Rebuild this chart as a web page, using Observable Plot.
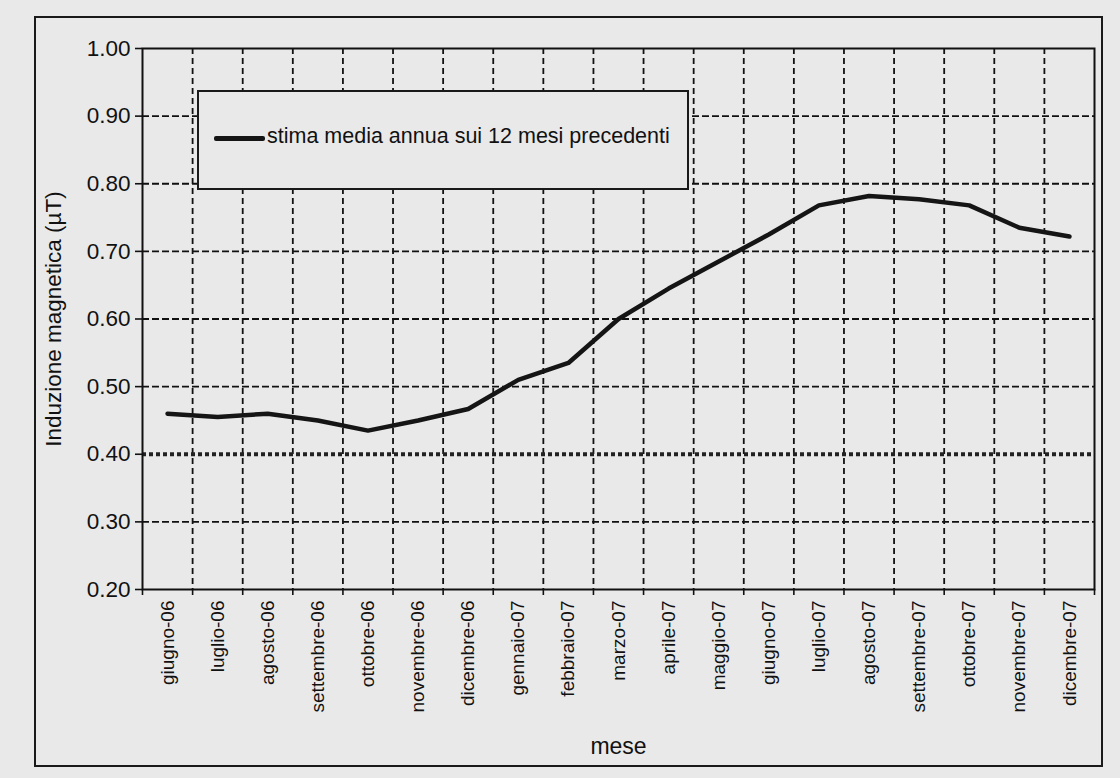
<!DOCTYPE html>
<html>
<head>
<meta charset="utf-8">
<script src="https://cdn.jsdelivr.net/npm/d3@7"></script>
<script src="https://cdn.jsdelivr.net/npm/@observablehq/plot@0.6"></script>
<style>
  html, body { margin: 0; padding: 0; background: #e9e9e9; }
  #wrap { position: relative; width: 1120px; height: 778px; overflow: hidden;
          font-family: "Liberation Sans", Arial, sans-serif; color: #111; }
  #wrap svg { position: absolute; left: 0; top: 0; }
  #frame { position: absolute; left: 34px; top: 16px; width: 1069px; height: 751px;
           border: 2px solid #1a1a1a; box-sizing: border-box; pointer-events: none; }
  #legend { position: absolute; left: 197px; top: 90px; width: 492px; height: 100px;
            border: 2px solid #1a1a1a; background: #e9e9e9; box-sizing: border-box; }
  #legend .swatch { position: absolute; left: 15px; top: 44px; width: 51px; height: 5px;
                    background: #151515; border-radius: 2px; }
  #legend .lbl { position: absolute; left: 68px; top: 34px; font-size: 21.5px; line-height: 1;
                 white-space: nowrap; color: #111; }
</style>
</head>
<body>
<div id="wrap">
  <div id="frame"></div>
</div>
<script>
// ---- data ----
const months = [
  "giugno-06", "luglio-06", "agosto-06", "settembre-06", "ottobre-06", "novembre-06",
  "dicembre-06", "gennaio-07", "febbraio-07", "marzo-07", "aprile-07", "maggio-07",
  "giugno-07", "luglio-07", "agosto-07", "settembre-07", "ottobre-07", "novembre-07",
  "dicembre-07"
];
const stimaMedia = [
  0.460, 0.455, 0.460, 0.450, 0.435, 0.450,
  0.467, 0.510, 0.535, 0.600, 0.645, 0.685,
  0.725, 0.768, 0.782, 0.777, 0.768, 0.735,
  0.722
];
const yTicks = [0.2, 0.3, 0.4, 0.5, 0.6, 0.7, 0.8, 0.9, 1.0];
const soglia = [0.4];
const seriesName = "stima media annua sui 12 mesi precedenti";
const yLabel = "Induzione magnetica (µT)";
const xLabel = "mese";

// ---- derived table ----
const n = months.length;
const data = months.map((m, i) => ({ i, m, v: stimaMedia[i] }));
const edges = d3.range(n + 1).map(k => k - 0.5);
const innerEdges = edges.slice(1, -1);
const gridY = yTicks.slice(1, -1).filter(t => !soglia.includes(t));

const chart = Plot.plot({
  width: 1120,
  height: 778,
  marginLeft: 142,
  marginRight: 26,
  marginTop: 48,
  marginBottom: 189,
  style: { background: "transparent", fontFamily: "Liberation Sans, Arial, sans-serif", color: "#111" },
  x: { domain: [-0.5, n - 0.5] },
  y: { domain: [0.2, 1.0] },
  marks: [
    Plot.ruleY(gridY, { stroke: "#111", strokeWidth: 1.8, strokeDasharray: "7,3" }),
    Plot.ruleX(innerEdges, { stroke: "#111", strokeWidth: 1.8, strokeDasharray: "6,4" }),
    Plot.ruleY(soglia, { stroke: "#222", strokeWidth: 4, strokeDasharray: "4,3" }),
    Plot.line(data, { x: "i", y: "v", stroke: "#151515", strokeWidth: 4.5,
                      strokeLinejoin: "round", strokeLinecap: "round" }),
    Plot.frame({ stroke: "#111", strokeWidth: 2 }),
    Plot.axisY(yTicks, {
      tickFormat: d3.format(".2f"), tickSize: 7, tickPadding: 5, fontSize: 22.5,
      stroke: "#111", strokeWidth: 1.6,
      label: yLabel, labelAnchor: "center", labelArrow: "none", labelOffset: 97
    }),
    Plot.axisX(d3.range(n), {
      tickFormat: i => months[i], tickRotate: -90, tickSize: 0, tickPadding: 11, fontSize: 19,
      label: null
    }),
    Plot.axisX([], { label: xLabel, labelAnchor: "center", labelArrow: "none", labelOffset: 164, fontSize: 23 }),
    Plot.axisX(edges, { tickFormat: () => "", tickSize: 6, stroke: "#111", strokeWidth: 1.6, label: null })
  ]
});

const wrap = document.getElementById("wrap");
wrap.insertBefore(chart, wrap.firstChild);

// legend
const legend = document.createElement("div");
legend.id = "legend";
const sw = document.createElement("div");
sw.className = "swatch";
const lbl = document.createElement("div");
lbl.className = "lbl";
lbl.textContent = seriesName;
legend.appendChild(sw);
legend.appendChild(lbl);
wrap.appendChild(legend);
</script>
</body>
</html>
